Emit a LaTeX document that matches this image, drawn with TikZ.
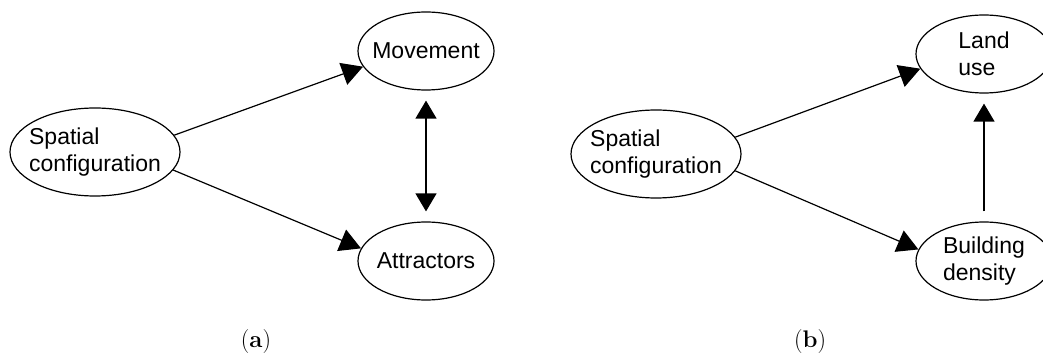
\documentclass[tikz,border=0pt]{standalone}
\usepackage{fontspec}
\usepackage{tikz}
\usetikzlibrary{shapes.geometric,arrows.meta}
\newfontfamily\arialfont{Liberation Sans}

\tikzset{
	factor/.style={draw, ellipse, line width=1.2pt, inner ysep=0pt, align=left,
		font=\arialfont\fontsize{23}{26.5}\selectfont},
	small/.style={factor, inner xsep=-9pt, minimum width=136pt, minimum height=78pt},
	big/.style={factor, inner xsep=-6pt, minimum width=170pt, minimum height=88pt},
	link/.style={line width=1.2pt, -{Triangle[length=21pt,width=23pt]}},
	both/.style={line width=1.2pt, {Triangle[length=18pt,width=21pt]}-{Triangle[length=18pt,width=21pt]}},
	caption/.style={font=\fontsize{24}{28}\selectfont}
}

\begin{document}
\begin{tikzpicture}[x=1pt,y=-1pt]
\clip (0,0) rectangle (1043,358);

% (a)
\node[big] (sca) at (95,152) {Spatial\\configuration};
\node[small] (mov) at (426,51) {Movement};
\node[small] (att) at (426,261) {Attractors};

\draw[link] (sca.12) -- (mov.194);
\draw[link] (sca.-13) -- (att.169);
\draw[both, shorten <=10pt, shorten >=10pt] (mov.south) -- (att.north);

\node[caption] (capa) at (256,342) {(\textbf{a})};

% (b)
\node[big] (scb) at (656,154) {Spatial\\configuration};
\node[small] (land) at (984,54) {Land\\use};
\node[small] (dens) at (984,261) {Building\\density};

\draw[link] (scb.12) -- (land.193);
\draw[link] (scb.-12) -- (dens.170);
\draw[link, -{Triangle[length=18pt,width=21pt]}, shorten <=10pt, shorten >=10pt] (dens.north) -- (land.south);

\node[caption] (capb) at (810,342) {(\textbf{b})};

\end{tikzpicture}
\end{document}
